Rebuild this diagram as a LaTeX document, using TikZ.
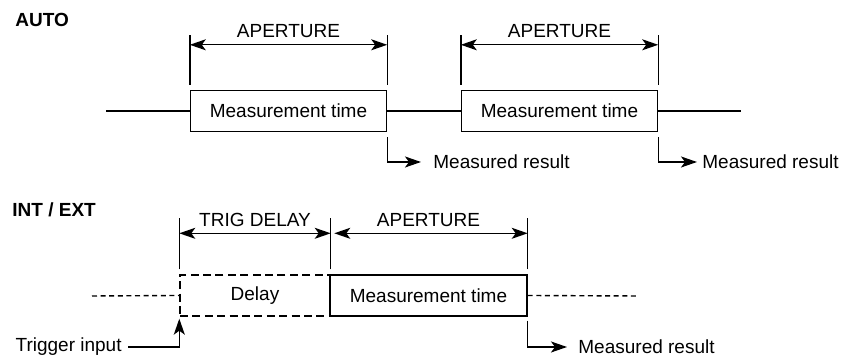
\documentclass[tikz,border=0pt]{standalone}
\usepackage{fontspec}
\setmainfont{Liberation Sans}
\usetikzlibrary{arrows.meta, positioning, calc}

\begin{document}
\begin{tikzpicture}[
    x=0.5pt, y=-0.5pt,
    every node/.style={font=\fontsize{9.5}{11}\selectfont},
    period/.style={draw, line width=0.7pt, minimum height=20.5pt, inner sep=0pt},
    tick/.style={line width=0.7pt},
    span/.style={line width=0.7pt, {Stealth[length=8pt, width=5.5pt, inset=2pt]}-{Stealth[length=8pt, width=5.5pt, inset=2pt]}},
    result/.style={line width=0.7pt, -{Stealth[length=8pt, width=5.5pt, inset=2pt]}},
    idle/.style={line width=0.7pt},
    idledash/.style={line width=0.7pt, dash pattern=on 2.5pt off 1.8pt},
    title/.style={font=\fontsize{9.5}{11}\selectfont\bfseries, anchor=base west, inner sep=0pt},
    result text/.style={anchor=west, inner sep=0pt},
]
\useasboundingbox (0,0) rectangle (841,356);

% AUTO
\node[title] (autoT) at (15,27) {AUTO};
\node[period, minimum width=98pt] (meas1) at (288.5,111) {Measurement time};
\node[period, minimum width=98pt] (meas2) at (559.5,111) {Measurement time};
\coordinate (autoL) at (106,111);
\coordinate (autoR) at (741,111);
\draw[idle] (autoL) -- (meas1.west);
\draw[idle] (meas1.east) -- (meas2.west);
\draw[idle] (meas2.east) -- (autoR);

\foreach \b in {meas1, meas2} {
  \draw[tick] ($(\b.north west)+(0,-5)$) -- ++(0,-50);
  \draw[tick] ($(\b.north east)+(0,-5)$) -- ++(0,-50);
  \draw[span] ($(\b.north west)+(0,-45)$) -- ($(\b.north east)+(0,-45)$)
      node[midway, above, inner sep=3pt] {APERTURE};
}

\node[result text] (res1) at (433,162) {Measured result};
\node[result text] (res2) at (702,162) {Measured result};
\draw[result, shorten >=6pt] ($(meas1.south east)+(0,5)$) |- (res1.west);
\draw[result, shorten >=2.5pt] ($(meas2.south east)+(0,5)$) |- (res2.west);

% INT / EXT
\node[title] (intT) at (12,217) {INT / EXT};
\node[period, dash pattern=on 4pt off 2.2pt, minimum width=75pt] (delay) at (255,295.5) {Delay};
\node[period, minimum width=98.5pt] (meas3) at (428.5,295.5) {Measurement time};
\coordinate (intL) at (92,296);
\coordinate (intR) at (638,296);
\draw[idledash] (intL) -- (delay.west);
\draw[idledash] (meas3.east) -- (intR);

\foreach \c in {delay.north west, delay.north east, meas3.north east}
  \draw[tick] ($(\c)+(0,-5)$) -- ++(0,-51);
\draw[span] ($(delay.north west)+(0,-41)$) -- ($(delay.north east)+(0,-41)$)
    node[midway, above, inner sep=3pt] {TRIG DELAY};
\draw[span, shorten <=2.5pt] ($(meas3.north west)+(0,-41)$) -- ($(meas3.north east)+(0,-41)$)
    node[midway, above, inner sep=3pt] {APERTURE};

\node[anchor=east, inner sep=0pt] (trig) at (122,347) {Trigger input};
\draw[result, shorten <=3pt] (trig.east) -| ($(delay.south west)+(0,2)$);

\node[result text] (res3) at (578,347) {Measured result};
\draw[result, shorten >=5.5pt] ($(meas3.south east)+(0,4)$) |- (res3.west);
\end{tikzpicture}
\end{document}
